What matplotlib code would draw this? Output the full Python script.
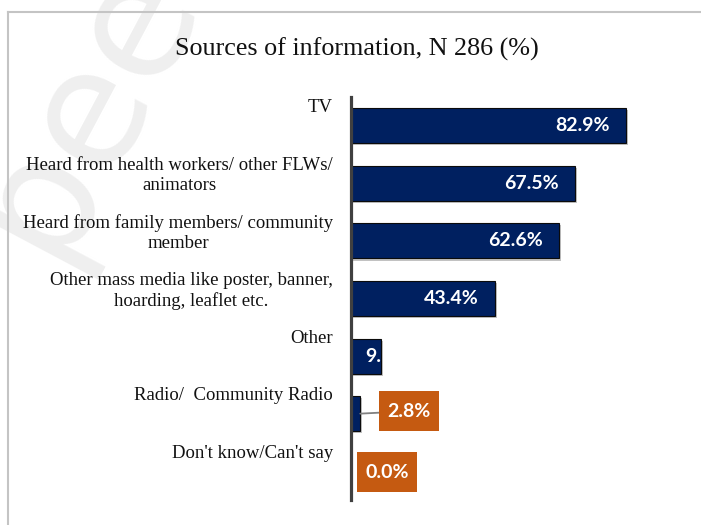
import matplotlib

matplotlib.use("Agg")

import matplotlib.pyplot as plt
import matplotlib.patheffects as pe
from matplotlib.lines import Line2D
from matplotlib.path import Path
from matplotlib.transforms import TransformedBbox, blended_transform_factory

# survey answers, top to bottom
categories = [
    "TV",
    "Heard from health workers/ other FLWs/\nanimators",
    "Heard from family members/ community\nmember",
    "Other mass media like poster, banner,\nhoarding, leaflet etc.",
    "Other",
    "Radio/  Community Radio",
    "Don't know/Can't say",
]
shares = [82.9, 67.5, 62.6, 43.4, 9.1, 2.8, 0.0]
value_labels = ["82.9%", "67.5%", "62.6%", "43.4%", "9.1%", "2.8%", "0.0%"]

NAVY = "#002060"
ORANGE = "#C55A11"
W, H = 701, 525


def callout_box(x0, y0, width, height, mutation_size):
    # plain rectangle, a bit taller than it is padded sideways
    px, py = 0.44 * mutation_size, 0.6 * mutation_size
    x0, y0 = x0 - px, y0 - py
    x1, y1 = x0 + width + 2 * px, y0 + height + 2 * py
    verts = [(x0, y0), (x1, y0), (x1, y1), (x0, y1), (x0, y0)]
    codes = [Path.MOVETO] + [Path.LINETO] * 3 + [Path.CLOSEPOLY]
    return Path(verts, codes)


fig = plt.figure(figsize=(W / 100, H / 100), dpi=100)
ax = fig.add_axes([351 / W, 25 / H, 331.7 / W, 403 / H])

ypos = list(range(len(categories)))
bars = ax.barh(ypos, shares, height=0.61, color=NAVY, edgecolor="#0b0b0b", linewidth=0.8)
for bar in bars:
    bar.set_path_effects([
        pe.SimplePatchShadow(offset=(1.5, -1.5), shadow_rgbFace="#9a9a9a", alpha=0.6),
        pe.Normal(),
    ])

ax.set_xlim(0, 100)
ax.set_ylim(len(categories) - 0.5, -0.5)
for side in ["top", "right", "bottom"]:
    ax.spines[side].set_visible(False)
ax.spines["left"].set_color("#404040")
ax.spines["left"].set_linewidth(2.3)
ax.spines["left"].set_zorder(5)
ax.tick_params(left=False, bottom=False, labelleft=False, labelbottom=False)

# category names sit at the top of each band, right aligned to the axis
band = blended_transform_factory(ax.transAxes, ax.transData)
for y, name in zip(ypos, categories):
    ax.text(-18 / 331.7, y - 0.5 + 0.04, name, transform=band, ha="right", va="top",
            multialignment="center", family="Liberation Serif", fontsize=13.5,
            color="#111111", linespacing=1.22)

label_font = dict(family="Lato", weight="bold", fontsize=14, color="white")
px_per_unit = 331.7 / 100

for y, val, text, bar in zip(ypos, shares, value_labels, bars):
    if val >= 20:
        ax.text(val - 16 / px_per_unit, y, text, ha="right", va="center", **label_font)
    elif val >= 5:
        # too narrow: label starts inside the bar and is cut at its end
        t = ax.text(14 / px_per_unit, y, text, ha="left", va="center", **label_font)
        t.set_clip_box(TransformedBbox(bar.get_bbox(), ax.transData))
        t.set_clip_on(True)

# call-out boxes for the smallest shares
callouts = {5: (49, 2.5), 6: (36, -1)}
for idx, (dx, dy) in callouts.items():
    val = shares[idx]
    ax.annotate(value_labels[idx], xy=(val, idx), xytext=(dx, dy),
                textcoords="offset pixels", ha="center", va="center",
                bbox=dict(boxstyle=callout_box, fc=ORANGE, ec="none"),
                arrowprops=dict(arrowstyle="-", color="#808080", lw=1.3,
                                shrinkA=0, shrinkB=0) if val > 0 else None,
                annotation_clip=False, **label_font)

fig.text(357 / W, 1 - 49 / H, "Sources of information, N 286 (%)", ha="center", va="center",
         family="Liberation Serif", fontsize=18.8, color="#111111")

# faint watermark and chart frame
fig.text(86 / W, 1 - 108 / H, "pee", rotation=62, rotation_mode="anchor", ha="center",
         va="center", fontsize=118, color="#efefef", zorder=-10)
fig.add_artist(Line2D([8 / W, 8 / W], [0, 1 - 12 / H], transform=fig.transFigure,
                      color="#c4c4c4", lw=1.5))
fig.add_artist(Line2D([8 / W, 1], [1 - 12 / H, 1 - 12 / H], transform=fig.transFigure,
                      color="#c4c4c4", lw=1.5))

fig.savefig("out.png", dpi=100)
